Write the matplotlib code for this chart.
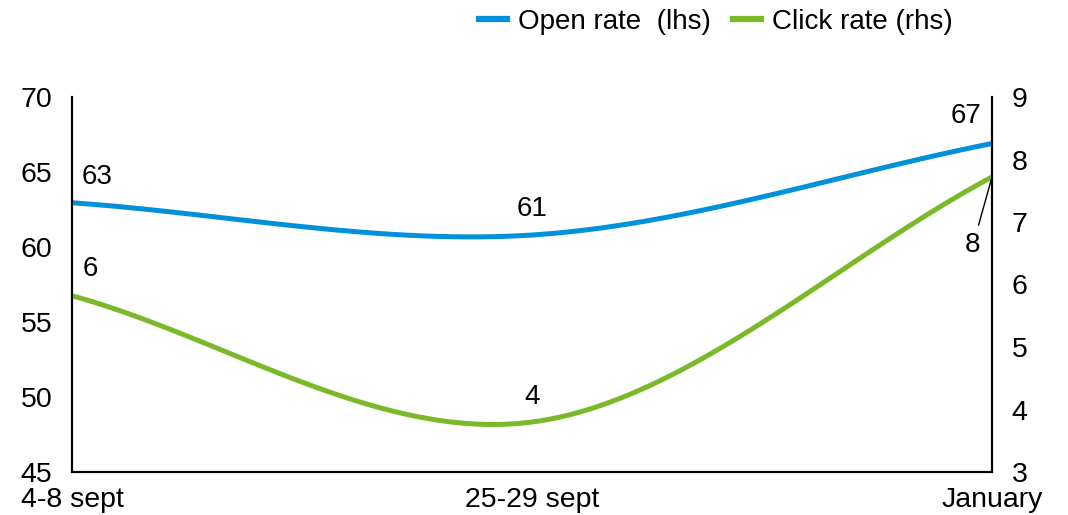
import matplotlib
matplotlib.use('Agg')
import matplotlib.pyplot as plt
from matplotlib.lines import Line2D
import numpy as np

plt.rcParams['font.family'] = ['Liberation Sans', 'DejaVu Sans']

# data
periods = ["4-8 sept", "25-29 sept", "January"]
open_rate = [62.95, 60.8, 66.9]     # lhs
click_rate = [5.82, 3.80, 7.72]     # rhs

blue = '#0091DA'
green = '#7AB929'


def smooth(xs, ys, n=60):
    # excel style smoothed line: bezier segments with catmull-rom tangents
    xs = np.asarray(xs, float)
    ys = np.asarray(ys, float)
    pts = np.column_stack([xs, ys])
    out = []
    for i in range(len(pts) - 1):
        p0, p1 = pts[i], pts[i + 1]
        t0 = (p1 - pts[i - 1]) / 2 if i > 0 else (p1 - p0)
        t1 = (pts[i + 2] - p0) / 2 if i + 2 < len(pts) else (p1 - p0)
        c1 = p0 + t0 / 3
        c2 = p1 - t1 / 3
        t = np.linspace(0, 1, n)[:, None]
        seg = (1 - t)**3 * p0 + 3 * (1 - t)**2 * t * c1 + 3 * (1 - t) * t**2 * c2 + t**3 * p1
        out.append(seg if i == 0 else seg[1:])
    out = np.vstack(out)
    return out[:, 0], out[:, 1]


fig = plt.figure(figsize=(10.68, 5.15), dpi=100)
ax = fig.add_axes([72/1068, 1 - 472/515, 920/1068, 375/515])
ax2 = ax.twinx()

x = np.arange(len(periods))
sx, sy = smooth(x, open_rate)
ax.plot(sx, sy, color=blue, lw=3.6, solid_capstyle='butt', clip_on=False)
sx, sy = smooth(x, click_rate)
ax2.plot(sx, sy, color=green, lw=3.6, solid_capstyle='butt', clip_on=False)

ax.set_xlim(0, 2)
ax.set_ylim(45, 70)
ax2.set_ylim(3, 9)
ax.set_yticks(np.arange(45, 71, 5))
ax2.set_yticks(np.arange(3, 10, 1))
ax.set_xticks(x)
ax.set_xticklabels(periods)

for a in (ax, ax2):
    a.spines['top'].set_visible(False)
    for s in a.spines.values():
        s.set_linewidth(1.5)
ax.tick_params(axis='both', length=0, labelsize=20.5)
ax.tick_params(axis='y', pad=14)
ax.tick_params(axis='x', pad=11)
ax2.tick_params(axis='y', length=0, labelsize=20.5, pad=14)

# data labels (offsets in pixels)
open_off = [(25, 26), (0, 26), (-26, 27)]
click_off = [(18, 27), (0, 25)]
for i, v in enumerate(open_rate):
    ax.annotate(f"{v:.0f}", (x[i], v), xytext=open_off[i], textcoords='offset pixels',
                ha='center', va='center', fontsize=20)
for i, v in enumerate(click_rate[:2]):
    ax2.annotate(f"{v:.0f}", (x[i], v), xytext=click_off[i], textcoords='offset pixels',
                 ha='center', va='center', fontsize=20)
ax2.annotate(f"{click_rate[2]:.0f}", (x[2], click_rate[2]), xytext=(-19, -68),
             textcoords='offset pixels', ha='center', va='center', fontsize=20,
             arrowprops=dict(arrowstyle='-', color='black', lw=1, shrinkA=3, shrinkB=0))

handles = [Line2D([], [], color=blue, lw=4.5),
           Line2D([], [], color=green, lw=4.5)]
fig.legend(handles, ["Open rate  (lhs)", "Click rate (rhs)"], loc='center',
           bbox_to_anchor=(716/1068, 1 - 22/515), ncol=2, frameon=False, fontsize=20,
           handlelength=1.0, handletextpad=0.4, columnspacing=0.8, borderpad=0)

fig.savefig("out.png", dpi=100)
